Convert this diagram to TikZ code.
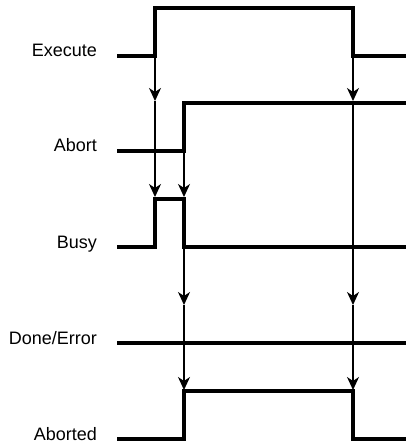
\documentclass[tikz,border=0pt]{standalone}
\usepackage{fontspec}
\setmainfont{Liberation Sans}
\usetikzlibrary{positioning, arrows.meta}

\begin{document}
\begin{tikzpicture}[
    x=1pt, y=-1pt,
    signal/.style={
        line width=3.2pt,
        line cap=butt
    },
    siglabel/.style={
        anchor=base east,
        inner sep=0pt,
        font=\fontsize{18}{21}\selectfont % Arial-like labels
    },
    arrow/.style={
        -{Stealth[length=13pt, width=12pt, inset=4pt]},
        line width=1.2pt
    }
]
\useasboundingbox (0,0) rectangle (406,446);

% Labels
\node (lexe)  at (97,57)  [siglabel] {Execute};
\node (labt)  at (97,152) [siglabel] {Abort};
\node (lbusy) at (97,248) [siglabel] {Busy};
\node (ldone) at (97,344) [siglabel] {Done/Error};
\node (labd)  at (97,440) [siglabel] {Aborted};

% Edge points
\coordinate (exerise) at (155,56);
\coordinate (exefall) at (353,56);
\coordinate (abtrise) at (184,151);
\coordinate (abtl)    at (155,101);
\coordinate (abtr)    at (353,101);
\coordinate (busyup)  at (155,197);
\coordinate (busydn)  at (184,197);
\coordinate (donem)   at (184,305);
\coordinate (doner)   at (353,305);
\coordinate (abdrise) at (184,390);
\coordinate (abdfall) at (353,390);

% Arrows: Execute rising edge
\draw [arrow] (exerise) -- (abtl);
\draw [arrow] (abtl) -- (busyup);

% Arrows: Abort rising edge
\draw [arrow] (abtrise) -- (busydn);
\draw [arrow] (busydn) -- (donem);
\draw [arrow] (donem) -- (abdrise);

% Arrows: Execute falling edge
\draw [arrow] (exefall) -- (abtr);
\draw [arrow] (abtr) -- (doner);
\draw [arrow] (doner) -- (abdfall);

% Signals
\draw [signal] (117,56) -| (155,8) -| (353,56) -- (406,56);
\draw [signal] (117,151) -| (184,103) -- (406,103);
\draw [signal] (117,247) -| (155,199) -| (184,247) -- (406,247);
\draw [signal] (117,343) -- (406,343);
\draw [signal] (117,439) -| (184,391) -| (353,439) -- (406,439);

\end{tikzpicture}
\end{document}
